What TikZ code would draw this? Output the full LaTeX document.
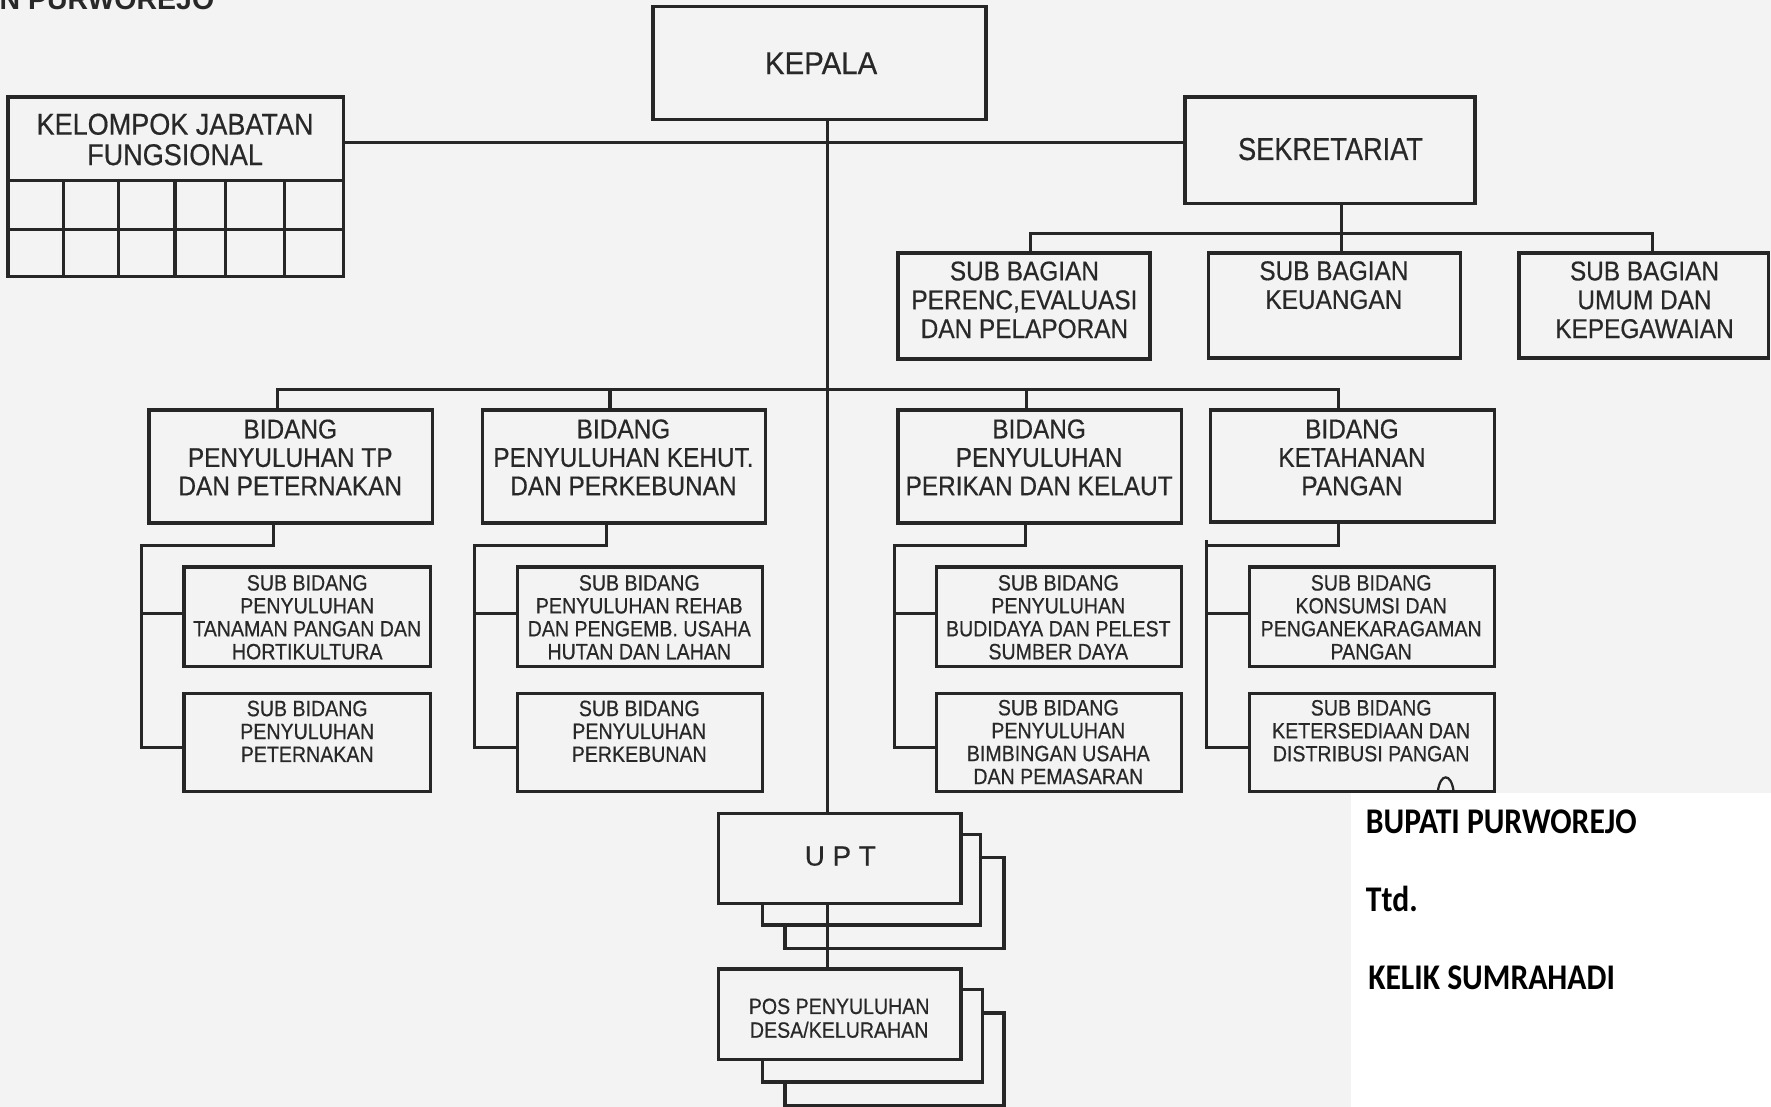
\documentclass[tikz,border=0pt]{standalone}
\usepackage{fontspec}
\setmainfont{Liberation Sans}[FakeBold=0.5]
\newfontfamily\fA{Liberation Sans}[FakeStretch=0.93,FakeBold=0.5]
\newfontfamily\fB{Liberation Sans}[FakeStretch=0.86,FakeBold=0.5]
\newfontfamily\fC{Liberation Sans}[FakeStretch=0.9,FakeBold=0.5]
\newfontfamily\fD{Liberation Sans}[FakeStretch=0.885,FakeBold=0.5]
\newfontfamily\fT{Liberation Sans Bold}
\newfontfamily\fS{Carlito}[FakeStretch=0.875]
\definecolor{bg}{RGB}{243,243,243}
\definecolor{ln}{RGB}{38,38,38}
\definecolor{tc}{RGB}{40,40,40}
\newcommand\obox[5]{\node[box, minimum width={(#4-#2)*0.5pt}, minimum height={(#5-#3)*0.5pt}] (#1) at ({(#2+#4)/2},{(#3+#5)/2}) {};}
\begin{document}
\begin{tikzpicture}[x=0.5pt,y=-0.5pt,
  box/.style={draw=ln, line width=1.5pt, fill=bg, inner sep=0pt, outer sep=0pt},
  conn/.style={draw=ln, line width=1.4pt},
  txt/.style={align=center, inner sep=0pt, text=tc},
  tbig/.style={txt, font=\fA\fontsize{14}{16}\selectfont},
  tmid/.style={txt, font=\fC\fontsize{12}{12.6}\selectfont},
  tsub/.style={txt, font=\fD\fontsize{9.8}{10.15}\selectfont},
  tsig/.style={anchor=base west, inner sep=0pt, text=black, font=\fS\bfseries\fontsize{16}{18}\selectfont}]
\useasboundingbox (0,0) rectangle (1568,980);
\fill[bg] (0,0) rectangle (1568,980);
\fill[white] (1196,702) rectangle (1568,980);

% title (cut off at the top edge, as in the scan)
\node[anchor=base east, inner sep=0pt, text=tc, font=\fT\fontsize{12.6}{14}\selectfont] (ttl) at (190,8) {N PURWOREJO};

% boxes
\obox{kepala}{578}{6}{873}{106}
\obox{kjf}{7}{86}{304}{245}
\obox{sek}{1049}{86}{1306}{180}
\obox{sb1}{795}{224}{1018}{318}
\obox{sb2}{1070}{224}{1293}{317}
\obox{sb3}{1345}{224}{1566}{317}
\obox{b1}{132}{363}{383}{463}
\obox{b2}{427}{363}{678}{463}
\obox{b3}{795}{363}{1046}{463}
\obox{b4}{1072}{363}{1323}{462}
\obox{sbd1}{163}{502}{381}{590}
\obox{sbd2}{163}{614}{381}{701}
\obox{sbd3}{458}{502}{675}{590}
\obox{sbd4}{458}{614}{675}{701}
\obox{sbd5}{829}{502}{1046}{590}
\obox{sbd6}{829}{614}{1046}{701}
\obox{sbd7}{1106}{502}{1323}{590}
\obox{sbd8}{1106}{614}{1323}{701}
\obox{upt3}{695}{759}{889}{840}
\obox{upt2}{675}{739}{868}{819}
\obox{upt}{636}{720}{851}{800}
\obox{pos3}{695}{897}{889}{979}
\obox{pos2}{675}{876}{870}{958}
\obox{pos}{636}{858}{851}{938}

% grid of kelompok jabatan fungsional
\draw[conn] (7,160) -- (304,160);
\draw[conn] (7,203) -- (304,203);
\foreach \gx in {56,105,155,200,252} \draw[conn] (\gx,160) -- (\gx,245);

% small arch on the last box
\draw[ln, line width=1pt] (1273,701) .. controls (1275,684) and (1285,684) .. (1287,701);

% connectors
\coordinate (xT) at (733,0);
\coordinate (yH) at (0,126);
\draw[conn] (kepala.south -| xT) -- (upt.north -| xT);
\draw[conn] (upt.south -| xT) -- (pos.north -| xT);
\draw[conn] (kjf.east |- yH) -- (sek.west |- yH);

\coordinate (xS) at (1188,207);
\coordinate (s1) at (912,207);
\coordinate (s3) at (1463,207);
\draw[conn] (sek.south -| xS) -- (sb2.north -| xS);
\draw[conn] (sb1.north -| s1) -- (s1) -- (s3) -- (sb3.north -| s3);

\coordinate (d1) at (246,345);
\coordinate (d2) at (540,345);
\coordinate (d3) at (909,345);
\coordinate (d4) at (1185,345);
\draw[conn] (b1.north -| d1) -- (d1) -- (d4) -- (b4.north -| d4);
\draw[conn] (d2) -- (b2.north -| d2);
\draw[conn] (d3) -- (b3.north -| d3);

\coordinate (g1) at (242,483);  \coordinate (l1) at (125,483);
\coordinate (e1) at (125,543);  \coordinate (f1) at (125,662);
\draw[conn] (b1.south -| g1) -- (g1) -- (l1) -- (f1) -- (sbd2.west |- f1);
\draw[conn] (e1) -- (sbd1.west |- e1);

\coordinate (g2) at (537,483);  \coordinate (l2) at (420,483);
\coordinate (e2) at (420,543);  \coordinate (f2) at (420,662);
\draw[conn] (b2.south -| g2) -- (g2) -- (l2) -- (f2) -- (sbd4.west |- f2);
\draw[conn] (e2) -- (sbd3.west |- e2);

\coordinate (g3) at (908,483);  \coordinate (l3) at (792,483);
\coordinate (e3) at (792,543);  \coordinate (f3) at (792,662);
\draw[conn] (b3.south -| g3) -- (g3) -- (l3) -- (f3) -- (sbd6.west |- f3);
\draw[conn] (e3) -- (sbd5.west |- e3);

\coordinate (g4) at (1185,483); \coordinate (l4) at (1068,483);
\coordinate (k4) at (1068,478);
\coordinate (e4) at (1068,543); \coordinate (f4) at (1068,662);
\draw[conn] (b4.south -| g4) -- (g4) -- (l4);
\draw[conn] (k4) -- (f4) -- (sbd8.west |- f4);
\draw[conn] (e4) -- (sbd7.west |- e4);

% texts
\node[tbig] (tkep) at (727,56) {KEPALA};
\node[txt, font=\fC\fontsize{13.3}{13.5}\selectfont] (tkjf) at (155,123.5) {KELOMPOK JABATAN\\FUNGSIONAL};
\node[txt, font=\fB\fontsize{14}{16}\selectfont] (tsek) at (1178,132) {SEKRETARIAT};
\node[txt, font=\fC\fontsize{12}{12.75}\selectfont] (tsb1) at (907,265.5) {SUB BAGIAN\\PERENC,EVALUASI\\DAN PELAPORAN};
\node[txt, font=\fC\fontsize{12}{12.75}\selectfont] (tsb2) at (1181,252.5) {SUB BAGIAN\\KEUANGAN};
\node[txt, font=\fC\fontsize{12}{12.75}\selectfont] (tsb3) at (1456,265.5) {SUB BAGIAN\\UMUM DAN\\KEPEGAWAIAN};
\node[tmid] (tb1) at (257,405) {BIDANG\\PENYULUHAN TP\\DAN PETERNAKAN};
\node[tmid] (tb2) at (552,405) {BIDANG\\PENYULUHAN KEHUT.\\DAN PERKEBUNAN};
\node[tmid] (tb3) at (920,405) {BIDANG\\PENYULUHAN\\PERIKAN DAN KELAUT};
\node[tmid] (tb4) at (1197,405) {BIDANG\\KETAHANAN\\PANGAN};
\node[tsub] (ts1) at (272,546.5) {SUB BIDANG\\PENYULUHAN\\TANAMAN PANGAN DAN\\HORTIKULTURA};
\node[tsub] (ts2) at (272,647.5) {SUB BIDANG\\PENYULUHAN\\PETERNAKAN};
\node[tsub] (ts3) at (566,546.5) {SUB BIDANG\\PENYULUHAN REHAB\\DAN PENGEMB. USAHA\\HUTAN DAN LAHAN};
\node[tsub] (ts4) at (566,647.5) {SUB BIDANG\\PENYULUHAN\\PERKEBUNAN};
\node[tsub] (ts5) at (937,546.5) {SUB BIDANG\\PENYULUHAN\\BUDIDAYA DAN PELEST\\SUMBER DAYA};
\node[tsub] (ts6) at (937,657) {SUB BIDANG\\PENYULUHAN\\BIMBINGAN USAHA\\DAN PEMASARAN};
\node[tsub] (ts7) at (1214,546.5) {SUB BIDANG\\KONSUMSI DAN\\PENGANEKARAGAMAN\\PANGAN};
\node[tsub] (ts8) at (1214,647) {SUB BIDANG\\KETERSEDIAAN DAN\\DISTRIBUSI PANGAN};
\node[txt, font=\fontsize{12.3}{14}\selectfont] (tupt) at (744,758) {U P T};
\node[txt, font=\fD\fontsize{9.8}{10.5}\selectfont] (tpos) at (743,901.5) {POS PENYULUHAN\\DESA/KELURAHAN};

% signature
\node[tsig] (sig1) at (1209,738) {BUPATI PURWOREJO};
\node[tsig] (sig2) at (1209,807) {Ttd.};
\node[tsig] (sig3) at (1211,876) {KELIK SUMRAHADI};
\end{tikzpicture}
\end{document}
